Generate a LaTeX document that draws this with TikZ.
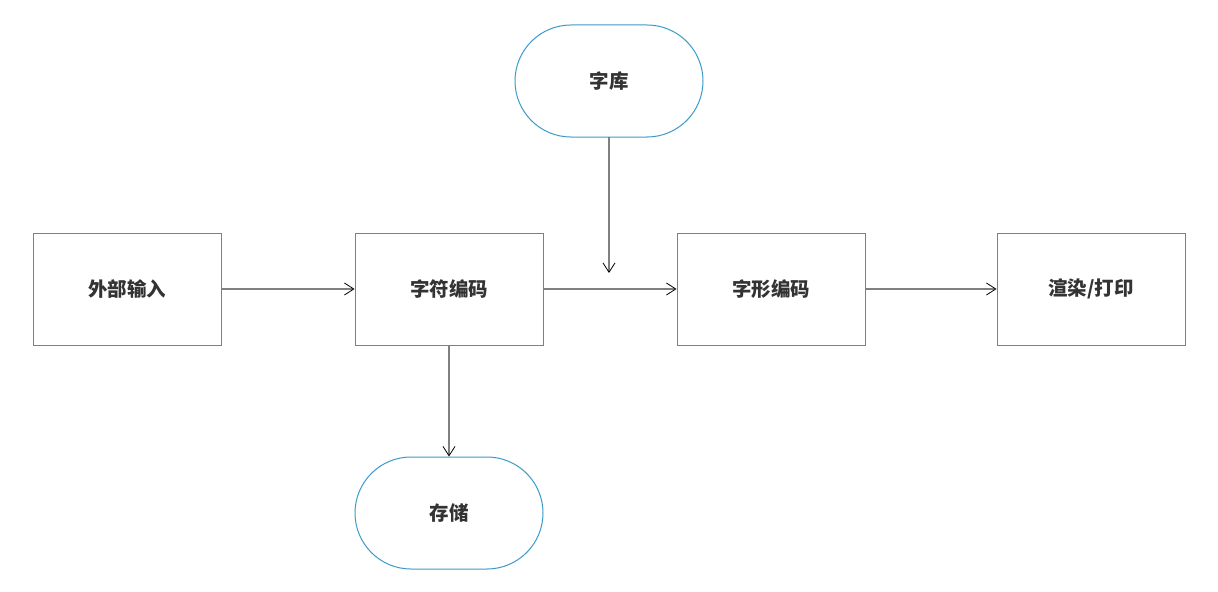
\documentclass[tikz,border=0pt]{standalone}
\usepackage{fontspec}
\newfontfamily\cjk{Noto Sans CJK SC}
\usetikzlibrary{arrows.meta}
\definecolor{linegray}{HTML}{808080}
\definecolor{txt}{HTML}{333333}
\definecolor{termblue}{HTML}{3A9AC8}
\begin{document}
\begin{tikzpicture}[x=0.75pt,y=-0.75pt,
  procbox/.style={draw=linegray,line width=0.75pt,fill=white,minimum width=141pt,minimum height=84pt,inner sep=0pt,font=\cjk\bfseries\fontsize{14.6pt}{17pt}\selectfont,text=txt},
  termbox/.style={procbox,draw=termblue,rounded corners=42pt},
  conn/.style={draw=linegray,line width=0.9pt,-{Straight Barb[length=7pt,width=9pt,line width=0.6pt,black]}}]
\useasboundingbox (0,0) rectangle (1218,592);
\node[procbox] (in) at (127,289) {外部输入};
\node[procbox] (enc) at (449,289) {字符编码};
\node[procbox] (glyph) at (771,289) {字形编码};
\node[procbox] (render) at (1091,289) {渲染/打印};
\node[termbox] (lib) at (609,81) {字库};
\node[termbox] (store) at (449,513) {存储};
\coordinate (libend) at (609,273);
\draw[conn] (in) -- (enc);
\draw[conn] (enc) -- (glyph);
\draw[conn] (glyph) -- (render);
\draw[conn] (lib) -- (libend);
\draw[conn] (enc) -- (store);
\end{tikzpicture}
\end{document}
